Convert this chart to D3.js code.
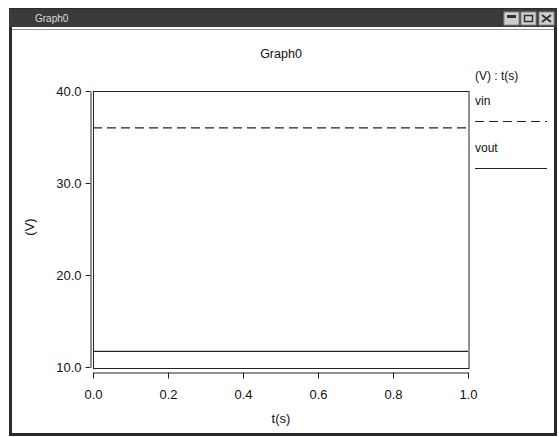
<!DOCTYPE html>
<html>
<head>
<meta charset="utf-8">
<script src="https://cdn.jsdelivr.net/npm/d3@7"></script>
<style>
  body { margin: 0; background: #fff; }
  svg text { font-family: "Liberation Sans", Arial, sans-serif; fill: #111; }
</style>
</head>
<body>
<div id="chart"></div>
<script>
// data
const timeValues = [0, 1];
const vinValues = [36.0, 36.0];
const voutValues = [11.7, 11.7];
const xTicks = [0, 0.2, 0.4, 0.6, 0.8, 1.0];
const yTicks = [10, 20, 30, 40];
const seriesNames = ["vin", "vout"];

const W = 559, H = 437;
const plot = {left: 93, right: 468, top: 91, bottom: 367};

const svg = d3.select("#chart").append("svg")
    .attr("width", W)
    .attr("height", H);

// window frame
svg.append("rect")
    .attr("x", 10.5).attr("y", 9.5)
    .attr("width", 545).attr("height", 425)
    .attr("fill", "#fff")
    .attr("stroke", "#2a2a2a")
    .attr("stroke-width", 3);

svg.append("rect")
    .attr("x", 9).attr("y", 9)
    .attr("width", 548).attr("height", 18)
    .attr("fill", "#3a3a3a");

svg.append("line")
    .attr("x1", 12).attr("x2", 554)
    .attr("y1", 29.5).attr("y2", 29.5)
    .attr("stroke", "#999")
    .attr("stroke-width", 1);

svg.append("text")
    .attr("x", 35).attr("y", 22)
    .style("font-size", "10px")
    .style("fill", "#ddd")
    .text("Graph0");

// title bar buttons
const btns = [504, 521, 539];
svg.selectAll(".btn")
    .data(btns)
    .enter()
    .append("rect")
    .attr("class", "btn")
    .attr("x", d => d).attr("y", 12)
    .attr("width", 15).attr("height", 13)
    .attr("fill", "#cfcfcf")
    .attr("stroke", "#888");
svg.append("rect").attr("x", 507).attr("y", 15).attr("width", 9).attr("height", 3).attr("fill", "#333");
svg.append("rect").attr("x", 524.5).attr("y", 15.5).attr("width", 8).attr("height", 6).attr("fill", "none").attr("stroke", "#333").attr("stroke-width", 1.5);
svg.append("path").attr("d", "M542,15L551,22M551,15L542,22").attr("stroke", "#333").attr("stroke-width", 2);

// scales
const x = d3.scaleLinear().domain([0, 1]).range([plot.left, plot.right]);
const y = d3.scaleLinear().domain([10, 40]).range([plot.bottom, plot.top]);

// plot box
svg.append("rect")
    .attr("x", plot.left + 0.5).attr("y", plot.top + 0.5)
    .attr("width", plot.right - plot.left + 0.5)
    .attr("height", plot.bottom - plot.top + 1)
    .attr("fill", "none")
    .attr("stroke", "#222")
    .attr("stroke-width", 1);

// axes
const yAxis = svg.append("g")
    .attr("transform", "translate(90.5,0)")
    .call(d3.axisLeft(y).tickValues(yTicks).tickFormat(d3.format(".1f")).tickSize(5).tickSizeOuter(0));
const xAxis = svg.append("g")
    .attr("transform", `translate(0,${plot.bottom + 5.5})`)
    .call(d3.axisBottom(x).tickValues(xTicks).tickFormat(d3.format(".1f")).tickSize(6).tickSizeOuter(0));

[xAxis, yAxis].forEach(g => {
    g.select(".domain").attr("stroke", "#222");
    g.selectAll(".tick line").attr("stroke", "#222");
    g.selectAll(".tick text")
        .style("font-size", "13px")
        .style("font-family", "Liberation Sans, Arial, sans-serif")
        .attr("fill", "#111");
});
yAxis.selectAll(".tick text").attr("x", -9).attr("dy", "0.35em");
xAxis.selectAll(".tick text").attr("y", 17);

// titles
svg.append("text")
    .attr("x", 281).attr("y", 58)
    .attr("text-anchor", "middle")
    .style("font-size", "12.5px")
    .text("Graph0");

svg.append("text")
    .attr("x", 281).attr("y", 423)
    .attr("text-anchor", "middle")
    .style("font-size", "13px")
    .text("t(s)");

svg.append("text")
    .attr("transform", "translate(34,227) rotate(-90)")
    .attr("text-anchor", "middle")
    .style("font-size", "13px")
    .text("(V)");

// series lines
const line = d3.line()
    .x((d, i) => x(timeValues[i]))
    .y(d => y(d));

svg.append("path")
    .datum(vinValues)
    .attr("d", line)
    .attr("fill", "none")
    .attr("stroke", "#222")
    .attr("stroke-width", 1.2)
    .attr("stroke-dasharray", "9,5");

svg.append("path")
    .datum(voutValues)
    .attr("d", line)
    .attr("fill", "none")
    .attr("stroke", "#222")
    .attr("stroke-width", 1.2);

// legend
svg.append("text")
    .attr("x", 475).attr("y", 80)
    .style("font-size", "12px")
    .text("(V) : t(s)");

const legend = svg.selectAll(".legend")
    .data(seriesNames)
    .enter()
    .append("g")
    .attr("class", "legend")
    .attr("transform", (d, i) => `translate(475,${105 + i * 47})`);

legend.append("text")
    .attr("y", 0)
    .style("font-size", "12px")
    .text(d => d);

legend.append("line")
    .attr("x1", 0).attr("x2", 72)
    .attr("y1", 16.5).attr("y2", 16.5)
    .attr("stroke", "#222")
    .attr("stroke-width", 1.2)
    .attr("stroke-dasharray", d => d === "vin" ? "9,5" : null);
</script>
</body>
</html>
